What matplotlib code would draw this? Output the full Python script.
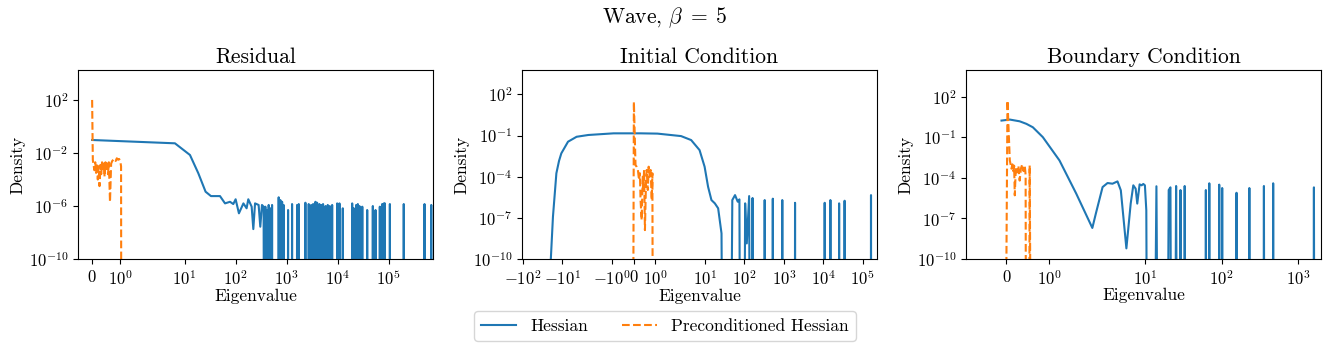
import numpy as np
import matplotlib.pyplot as plt
from matplotlib.ticker import FixedLocator, NullLocator

plt.rcParams.update({
    'font.family': 'serif',
    'font.serif': ['cmr10'],
    'mathtext.fontset': 'cm',
    'axes.formatter.use_mathtext': True,
})

# log10(density) used where the spectrum drops to zero (below the axis)
FLOOR = -40.0

# ---- Residual ----
res_hess_x = [0.0, 6.48, 12.76, 18.6, 25.8, 32.9, 49.4, 62, 77.6, 90, 100, 116, 142, 164, 177,
              206, 222, 240, 282, 304, 328, 353, 370]
res_hess_log = [-1.02, -1.27, -2.15, -3.53, -4.92, -5.25, -5.25, -5.80, -5.68, -5.85, -5.49, -6.55,
                -5.80, -6.17, -5.49, -6.05, -7.74, -5.80, -5.92, -7.56, -5.92, -6.05, FLOOR]
res_spike_x = [382, 412, 444, 479, 517, 697, 752, 813, 872, 1064, 1274, 1597, 1722, 2324, 2700,
               3010, 3290, 3660, 3940, 4370, 4790, 5150, 5740, 6370, 6980, 7760, 9730, 10790,
               12540, 19150, 20600, 22950, 24700, 26650, 30200, 37700, 48600, 54900, 66600,
               74100, 79900, 83600, 104800, 196000, 500000, 677000]
res_spike_log = [-6.05, -6.30, -5.92, -6.17, -5.92, -5.34, -5.55, -5.68, -5.92, -6.30, -5.85, -5.92,
                 -5.85, -5.75, -5.85, -5.92, -5.85, -5.68, -5.75, -5.85, -5.92, -5.85, -6.0, -5.92,
                 -6.0, -5.92, -5.80, -5.80, -6.17, -5.80, -6.17, -5.92, -5.85, -6.0, -6.05, -6.30,
                 -6.0, -6.30, -6.05, -5.85, -5.80, -5.80, -5.85, -5.85, -5.85, -5.92]
res_pre_x = [0.0, 0.025, 0.05, 0.08, 0.11, 0.14, 0.17, 0.20, 0.23, 0.26, 0.29, 0.32, 0.35, 0.38,
             0.41, 0.44, 0.47, 0.50, 0.53, 0.56, 0.59, 0.63, 0.67, 0.71, 0.75, 0.79, 0.83, 0.87,
             0.91, 0.95, 0.99, 1.02, 1.04]
res_pre_log = [2.0, -2.53, -2.9, -3.3, -2.7, -3.5, -2.8, -4.0, -3.0, -4.5, -2.9, -3.6, -2.7, -3.3,
               -2.8, -3.8, -2.7, -3.2, -2.8, -3.6, -2.7, -5.7, -2.8, -2.6, -2.5, -2.45, -2.6, -2.4,
               -2.5, -2.45, -2.6, -3.0, FLOOR]

# ---- Initial Condition ----
ic_hess_x = [-19.6, -17.1, -14.0, -12.0, -10.5, -7.1, -4.3, -2.17, -0.91, 0.32, 1.09, 2.48, 4.47,
             7.3, 9.8, 12.0, 14.6, 17.8, 21.6, 26.3, 30.9, 40.6, 49.4, 57.9, 67.8, 74.8, 82.4, 92,
             104.5, 115, 132, 146, 161, 178]
ic_hess_log = [-10.3, -6.92, -3.75, -2.85, -2.30, -1.45, -1.09, -0.96, -0.84, -0.84, -0.86, -1.04,
               -1.33, -2.06, -3.27, -4.73, -5.70, -5.94, -6.30, -8.13, FLOOR, FLOOR, -5.7, -5.34,
               -5.82, -5.65, FLOOR, FLOOR, -5.94, -8.86, -5.41, FLOOR, -5.55, FLOOR]
ic_spike_x = [327, 525, 913, 1923, 10850, 15150, 25200, 34700, 162000]
ic_spike_log = [-5.7, -5.6, -5.7, -5.9, -5.9, -5.7, -5.94, -5.75, -5.34]
ic_pre_x = [-0.06, 0.015, 0.09, 0.14, 0.20, 0.25, 0.29, 0.32, 0.37, 0.42, 0.45, 0.48, 0.52, 0.57,
            0.60, 0.65, 0.69, 0.74, 0.78, 0.83, 0.86, 0.91]
ic_pre_log = [FLOOR, 1.46, -3.15, -3.27, -3.51, -4.24, -3.75, -5.70, -7.16, -4.0, -4.97, -3.51,
              -7.89, -4.24, -3.51, -4.97, -3.27, -4.0, -3.51, -5.70, -3.75, FLOOR]

# ---- Boundary Condition ----
bc_hess_x = [-0.117, 0.077, 0.31, 0.468, 0.62, 0.855, 1.246, 1.64, 2.05, 2.28, 2.79, 3.24, 3.76,
             4.37, 4.83, 5.71, 6.5, 7.03, 7.55, 7.92, 8.5, 9.03, 9.5, 9.97, 10.4, 11.0,
             12.4, 14.1, 15.5, 18.9, 20.4, 21.5, 22.6, 23.8, 25.5, 27.0, 29.1, 30.5, 32.1, 33.0,
             34.3]
bc_hess_log = [0.235, 0.31, 0.18, -0.007, -0.26, -0.99, -2.71, -5.16, -7.70, -6.63, -4.68, -4.38,
               -4.43, -4.26, -4.92, -9.21, -5.9, -4.55, -4.8, -5.9, -4.48, -4.55, -4.45, -4.55,
               -6.4, FLOOR, FLOOR, -4.62, FLOOR, FLOOR, -4.9, -4.7, FLOOR, FLOOR, -4.6, FLOOR,
               -4.9, FLOOR, FLOOR, -4.6, FLOOR]
bc_spike_x = [62.4, 69.2, 93.3, 102, 157, 231, 358, 473, 1612]
bc_spike_log = [-4.9, -4.4, -4.5, -4.75, -5.1, -4.75, -4.6, -4.4, -4.7]
bc_pre_x = [-0.065, 0.023, 0.078, 0.117, 0.14, 0.16, 0.18, 0.195, 0.22, 0.25, 0.28, 0.31, 0.34,
            0.37, 0.40, 0.43, 0.45, 0.47, 0.52, 0.545, 0.61]
bc_pre_log = [FLOOR, 1.71, -2.71, -3.32, -3.0, -3.5, -3.1, -5.29, -3.2, -3.6, -3.1, -4.2, -3.3,
              -3.0, -3.5, -3.1, -3.8, FLOOR, FLOOR, -3.08, FLOOR]

titles = ['Residual', 'Initial Condition', 'Boundary Condition']
xlims = [(-0.5, 7.3e5), (-104, 2.3e5), (-0.95, 2.0e3)]
ytop = [1.8e4, 5.9e3, 9.3e3]
yticks = [[1e-10, 1e-6, 1e-2, 1e2], [1e-10, 1e-7, 1e-4, 1e-1, 1e2], [1e-10, 1e-7, 1e-4, 1e-1, 1e2]]


def with_spikes(x, logd, sx, slog, w=0.012):
    # narrow peaks drawn as up-and-down strokes from the floor
    xs, ys = list(x), list(logd)
    for xi, li in zip(sx, slog):
        xs += [xi * 10 ** -w, xi, xi * 10 ** w]
        ys += [FLOOR, li, FLOOR]
    return np.array(xs), 10.0 ** np.array(ys)


hess = [with_spikes(res_hess_x, res_hess_log, res_spike_x, res_spike_log),
        with_spikes(ic_hess_x, ic_hess_log, ic_spike_x, ic_spike_log),
        with_spikes(bc_hess_x, bc_hess_log, bc_spike_x, bc_spike_log)]
pre = [(np.array(res_pre_x), 10.0 ** np.array(res_pre_log)),
       (np.array(ic_pre_x), 10.0 ** np.array(ic_pre_log)),
       (np.array(bc_pre_x), 10.0 ** np.array(bc_pre_log))]

fig, axes = plt.subplots(1, 3, figsize=(13.3, 3.52), dpi=100)
fig.subplots_adjust(left=0.0586, right=0.9933, bottom=0.264, top=0.801, wspace=0.251)

for i, ax in enumerate(axes):
    ax.plot(hess[i][0], hess[i][1], color='#1f77b4', lw=1.5, label='Hessian')
    ax.plot(pre[i][0], pre[i][1], '--', color='#ff7f0e', lw=1.5, label='Preconditioned Hessian')
    ax.set_xscale('symlog', linthresh=2)
    ax.set_yscale('log')
    ax.set_xlim(*xlims[i])
    ax.set_ylim(1e-10, ytop[i])
    ax.yaxis.set_major_locator(FixedLocator(yticks[i]))
    ax.yaxis.set_minor_locator(NullLocator())
    ax.xaxis.set_minor_locator(NullLocator())
    ax.tick_params(labelsize=12)
    ax.set_title(titles[i], fontsize=15.5, pad=5)
    ax.set_xlabel('Eigenvalue', fontsize=12.5, labelpad=0)
    ax.set_ylabel('Density', fontsize=12.5, labelpad=2)

fig.suptitle(r'Wave, $\beta\;=\;5$', fontsize=15.5, y=0.985)
h, l = axes[0].get_legend_handles_labels()
fig.legend(h, l, loc='center', bbox_to_anchor=(0.5, 0.074), ncol=2, fontsize=12.5)

fig.savefig('out.png', dpi=100)
